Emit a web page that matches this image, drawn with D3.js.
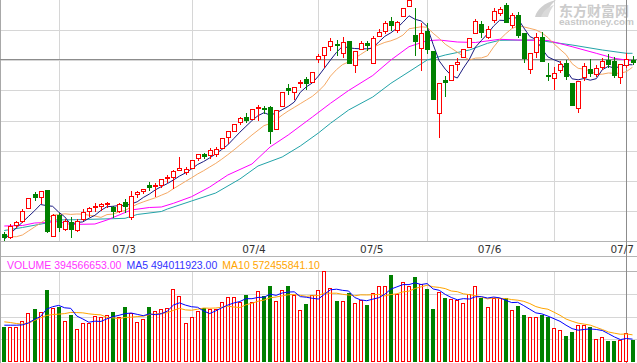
<!DOCTYPE html>
<html>
<head>
<meta charset="utf-8">
<script src="https://cdn.jsdelivr.net/npm/d3@7"></script>
<style>
body { margin: 0; background: #fff; }
svg { display: block; }
</style>
</head>
<body>
<div id="chart"></div>
<script>
// candle values (price units), one per bar
var open = [16,12.7,24.7,28.7,41.7,55.7,52.7,60,13.7,35,
  21.3,28,20,30.7,38.7,42.7,44,45.7,42.7,39,
  47.7,32.7,56,58.7,65.3,64,64.7,72,73.3,79.7,
  78.3,81.7,91.7,96,94.7,95.7,102,112.7,119.3,128,
  132.7,130.7,141.7,142.3,142.7,120.7,144,161.7,157.7,166.7,
  170.7,168.5,191.5,194.7,204,206.3,196.7,209,184.7,200.7,
  206.7,186.7,214.3,219.3,229.3,220.3,234,244.5,214.7,201.7,
  219,199,136.7,170,170,186.3,192.7,202.7,217.3,226,
  213.3,230,237.3,245.3,225.3,235.3,216.7,180.7,198.3,213.3,
  174.7,172,180,187.3,167.3,141.7,172.7,181.3,176,183.3,
  190,189.3,172.7,184.7,190];
var close = [13.5,24,27.7,38.7,52,52.7,59.3,19.3,35,23.3,
  29.3,21.3,28.7,37.7,41.7,44.3,45.7,47.3,39.3,45.7,
  43.7,54.3,58,60.7,62.7,64.7,70.7,73.3,78.7,82.3,
  80.7,90,95.7,94,100,101,111.7,119,125.7,131.7,
  130,140.7,143.3,141,119.3,140,157.7,160,162.7,168.3,
  166.7,178,194,202.7,208.7,205,208,186.7,199,207.3,
  205,211.7,217.7,226.7,224.7,228,242,249.5,209.3,216.7,
  200.7,151.3,167.3,168.3,185,188.3,200.7,211.7,229,218.3,
  221.3,239,240.7,228,235.3,215.3,191.7,197.3,213.3,189,
  174,177.3,186,174,144.7,169,184,177.3,181.7,189.3,
  186,175,186,190.7,188.3];
var high = [18,26,28.7,40.7,52,58,59.3,60,36,36.7,
  31.3,33.3,31,40.7,43.3,47.3,47.3,48.3,44.3,46.7,
  50.7,59.3,59.3,61.3,68.3,66.7,71,75,80,93.3,
  83.3,90,95.7,97.3,102,102.7,111.7,119,125.7,132.7,
  136.7,140.7,144.7,144,144,140,157.7,166,162.7,170,
  172.7,178,196,202.7,212,210,212.7,209,199,208.7,
  208.7,214,220.7,228.7,232.7,229.3,242,250,241.7,227.3,
  227.3,199,167.3,174,185,192,200.7,211.7,230.7,229.3,
  224,241.7,243.3,247.3,236.7,238,216.7,197.3,216.7,218.3,
  186.7,183.3,189,190,167.3,169,186.7,190.7,184.7,191.7,
  196,192.7,186,197.3,194];
var low = [10.5,12.5,23.3,28,41.7,49.7,47.3,18.3,13.7,19.3,
  20,12.7,18.7,30,34,38.7,40,42.7,33.3,38,
  38,31.3,53,57.3,60,54,63.3,68.3,61.7,79.7,
  76,81.7,90,92,92,94,102,106.7,119.3,126,
  128.3,130.7,130,136.7,106.7,120.7,144,156,150.7,162.7,
  160.7,168.5,188.3,183.3,200,195,193.3,186.7,178.3,200.7,
  200,186.7,213.7,216.7,220,218.3,234,244,195,180,
  196.7,151.3,113.3,154,170,180,192.7,202.7,216.7,213.3,
  212,228.3,235,228,223.3,213.3,188.3,176.7,192.7,189,
  170,160.7,178.3,170.7,144.7,138.3,170,174,174,180.7,
  183.3,172.7,167.3,183.3,186];

// price moving averages
var ma5 = [10.7,16.4,22.1,27.8,33.5,39.2,45.5,44.4,43.7,37.9,
  33.2,25.6,27.5,28.1,31.7,34.7,39.6,43.3,43.7,44.5,
  44.3,46.1,48.2,52.5,55.9,60.1,63.4,66.4,70,73.9,
  77.1,81,85.5,88.5,92.1,96.1,100.5,105.1,111.5,117.8,
  123.6,129.4,134.3,137.3,134.9,136.9,140.3,143.6,147.9,157.7,
  163.1,167.1,173.9,181.9,190,197.7,203.7,202.2,201.5,201.2,
  201.2,201.9,208.1,213.7,217.2,221.8,227.8,234.2,230.7,229.1,
  223.6,205.5,189.1,180.9,174.5,172,181.9,190.8,202.9,209.6,
  216.2,223.9,229.7,229.5,232.9,231.7,222.2,213.5,210.6,201.3,
  193.1,190.2,187.9,180.1,171.2,170.2,171.5,169.8,171.3,180.3,
  183.7,181.9,183.6,185.4,185.2];
var ma10 = [null,13.3,13.3,15,19,23,27,31,35,35.3,
  36.2,35.6,36,35.9,34.8,34,32.6,35.4,35.9,38.1,
  39.5,42.9,45.8,48.1,50.2,52.2,54.8,57.3,61.3,64.9,
  68.6,72.2,76,79.3,83,86.6,90.8,95.3,100,105,
  109.9,115,119.7,124.4,126.4,130.3,134.9,139,142.6,146.3,
  150,153.7,158.8,164.9,173.9,180.4,185.4,188.1,191.7,195.6,
  199.5,202.8,205.2,207.6,209.2,211.5,214.9,221.2,222.2,223.2,
  222.7,216.7,211.7,205.8,201.8,197.8,193.7,190,191.9,192.1,
  194.1,202.9,210.3,216.2,221.3,224,223.1,221.6,220.1,217.1,
  212.4,206.2,200.7,195.4,186.3,181.7,180.9,178.9,175.7,175.8,
  177,176.7,176.7,178.4,182.8];
// slower averages, read as [bar, value]
var ma20 = [[0,24],[3,24.5],[5,27],[7,27.5],[9,28.5],[11,25.5],[15,26],[17,30],
  [21,40],[24,42.5],[26,43],[28,46.7],[31,53.3],[34,63],[37,75],[41,86],[44,103],
  [47,115],[51,133],[54,146.7],[57,159.5],[61,174.5],[64,190],[67,203.3],[70,209.3],
  [72,210],[75,208],[78,207.5],[82,210.7],[85,210],[90,209.5],[94,203.3],[98,196.7],
  [101,191.7],[104,189]];
var ma60 = [[0,19.5],[3,22.5],[7,27],[8,30],[12,30.3],[18,31.3],[20,31.7],[22,35.5],
  [26,38.5],[27,41],[31,49],[35,57],[39,71],[42,84],[46,93],[49,104],[52,117],
  [54,126.7],[57,140],[61,153],[64,166.7],[67,178.3],[70,190],[73,195],[77,200],
  [80,206.7],[82,209.7],[88,210],[94,205],[99,200],[103,196.7],[104,196.7]];

// volume (millions) and its averages
var volume = [525,525,525,620,725,790,740,1075,800,825,
  610,700,500,580,580,690,680,700,740,680,
  815,725,600,640,815,760,790,800,1090,980,
  590,670,760,810,790,790,900,965,965,900,
  1000,900,1060,980,1130,910,1075,1130,1000,770,
  865,995,1075,1360,1100,910,910,1025,875,920,
  850,1025,1135,1135,1300,1020,1195,1135,1270,1170,
  1090,790,1040,960,940,920,875,1010,1130,950,
  815,950,950,950,775,835,700,680,680,700,
  670,505,485,390,445,550,560,525,350,370,
  315,315,325,430,325];
var vma5 = [550,550,550,555,584,637,680,790,826,846,
  810,802,687,643,594,610,606,646,678,698,
  723,732,712,692,719,708,721,761,851,884,
  850,826,818,762,724,764,810,851,882,904,
  946,946,965,968,1014,996,1031,1045,1049,977,
  968,952,941,1013,1079,1088,1071,1061,964,928,
  916,939,961,1013,1089,1123,1157,1157,1184,1158,
  1172,1091,1072,1010,964,930,947,941,975,977,
  956,971,959,923,888,892,842,788,734,719,
  686,647,608,550,499,475,486,494,486,471,
  424,375,335,351,342];
var vma10 = [600,590,575,565,580,620,660,695,710,715,
  723.5,741,738.5,734.5,720,710,704,666.5,660.5,646,
  666.5,669,679,685,708.5,715.5,726.5,736.5,771.5,801.5,
  779,773.5,789.5,806.5,804,807,818,834.5,822,814,
  855,878,908,925,959,971,988.5,1005,1008.5,995.5,
  982,991.5,993,1031,1028,1028,1011.5,1001,988.5,1003.5,
  1002,1005,1011,988.5,1008.5,1019.5,1048,1059,1098.5,1123.5,
  1147.5,1124,1114.5,1097,1061,1051,1019,1006.5,992.5,970.5,
  943,959,950,949,932.5,924,906.5,873.5,828.5,803.5,
  789,744.5,698,642,609,580.5,566.5,551,518,485,
  449.5,430.5,414.5,418.5,406.5];

// first bar of each day and its label
var dayStart = [9, 31, 52, 70, 91];
var dayLabel = ['07/3', '07/4', '07/5', '07/6', '07/7'];
var crossBar = 103;
var legendItems = [
  {text: 'VOLUME 394566653.00', color: '#ff33ff'},
  {text: 'MA5 494011923.00', color: '#3333ff'},
  {text: 'MA10 572455841.10', color: '#ffa500'}
];

const width = 637, height = 363;
const priceTop = 0, priceBottom = 241;
const axisBottom = 256;
const volTop = 271, volBottom = 362;
const n = close.length;

var svg = d3.select('#chart').append('svg')
  .attr('width', width)
  .attr('height', height);

var x = d3.scaleLinear().domain([0, n - 1]).range([4.3, 632.5]);
var y = d3.scaleLinear().domain([9, 250]).range([priceBottom, priceTop]);
var yv = d3.scaleLinear().domain([0, 1360]).range([volBottom, volTop]);

var px = function(i) { return Math.round(x(i)); };

// grid
var grid = svg.append('g').attr('shape-rendering', 'crispEdges');
d3.range(1, 8).forEach(function(k) {
  var gy = Math.round(priceBottom * k / 8) + 0.5;
  grid.append('line').attr('x1', 0).attr('x2', width).attr('y1', gy).attr('y2', gy)
    .attr('stroke', '#d6d6d6');
});
d3.range(1, 4).forEach(function(k) {
  var gy = Math.round(volTop + (volBottom - volTop) * k / 4) + 0.5;
  grid.append('line').attr('x1', 0).attr('x2', width).attr('y1', gy).attr('y2', gy)
    .attr('stroke', '#d6d6d6');
});
dayStart.forEach(function(d) {
  var gx = px(d) + 0.5;
  grid.append('line').attr('x1', gx).attr('x2', gx).attr('y1', priceTop).attr('y2', priceBottom)
    .attr('stroke', '#d6d6d6');
  grid.append('line').attr('x1', gx).attr('x2', gx).attr('y1', volTop).attr('y2', volBottom)
    .attr('stroke', '#d6d6d6');
});

// frame lines
[priceBottom, axisBottom, volTop].forEach(function(ly) {
  grid.append('line').attr('x1', 0).attr('x2', width).attr('y1', ly + 0.5).attr('y2', ly + 0.5)
    .attr('stroke', '#b4b4b4');
});
grid.append('line').attr('x1', 0.5).attr('x2', 0.5).attr('y1', 0).attr('y2', height)
  .attr('stroke', '#a8a8a8');

// watermark
var mark = svg.append('g');
mark.append('path')
  .attr('d', 'M535,17 C537,9 544,3 556,0 C550,5 547,11 544,17 Z')
  .attr('fill', '#cfcfcf');
mark.append('path')
  .attr('d', 'M541,17 C543,11 548,7 554,5 C551,9 549,13 548,17 Z')
  .attr('fill', '#dadada');
mark.append('text')
  .attr('x', 559).attr('y', 16.3)
  .attr('font-family', '"Noto Sans CJK SC"')
  .attr('font-weight', 'bold')
  .attr('font-size', 14)
  .attr('fill', '#cccccc')
  .text('东方财富网');
mark.append('text')
  .attr('x', 559).attr('y', 25)
  .attr('font-family', '"Liberation Sans", Arial, sans-serif')
  .attr('font-weight', 'bold')
  .attr('font-size', 8.5)
  .attr('textLength', 75)
  .attr('lengthAdjust', 'spacingAndGlyphs')
  .attr('fill', '#c8c8c8')
  .text('eastmoney.com');

// crosshair
var cross = svg.append('g').attr('shape-rendering', 'crispEdges');
var chx = px(crossBar) + 0.5, chy = Math.round(y(close[crossBar])) + 0.5;
cross.append('line').attr('x1', 0).attr('x2', width).attr('y1', chy).attr('y2', chy)
  .attr('stroke', '#8c8c8c');
cross.append('line').attr('x1', chx).attr('x2', chx).attr('y1', 0).attr('y2', height)
  .attr('stroke', '#8c8c8c');

// moving average lines (price)
var line = d3.line()
  .x(function(d) { return x(d[0]); })
  .y(function(d) { return y(d[1]); });
var pairs = function(arr) {
  return arr.map(function(v, i) { return [i, v]; }).filter(function(d) { return d[1] !== null; });
};
var maGroup = svg.append('g').attr('fill', 'none').attr('stroke-width', 1);
maGroup.append('path').attr('d', line(ma60)).attr('stroke', '#22a3a8');
maGroup.append('path').attr('d', line(ma20)).attr('stroke', '#ff00ff');
maGroup.append('path').attr('d', line(pairs(ma10))).attr('stroke', '#f5a863');
maGroup.append('path').attr('d', line(pairs(ma5))).attr('stroke', '#1a1a80');

// candles
var bars = d3.range(n);
var candles = svg.append('g').attr('shape-rendering', 'crispEdges');
candles.selectAll('line.wick').data(bars).join('line')
  .attr('class', 'wick')
  .attr('x1', function(i) { return px(i) + 0.5; })
  .attr('x2', function(i) { return px(i) + 0.5; })
  .attr('y1', function(i) { return Math.round(y(high[i])); })
  .attr('y2', function(i) { return Math.round(y(low[i])) + 1; })
  .attr('stroke', function(i) { return close[i] >= open[i] ? '#ff0000' : '#008000'; });
candles.selectAll('rect.body').data(bars).join('rect')
  .attr('class', 'body')
  .each(function(i) {
    var up = close[i] >= open[i];
    var top = Math.round(y(Math.max(open[i], close[i])));
    var bot = Math.round(y(Math.min(open[i], close[i])));
    var h = Math.max(1, bot - top);
    var r = d3.select(this);
    if (up) {
      r.attr('x', px(i) - 1.5).attr('y', top + 0.5).attr('width', 4).attr('height', h)
        .attr('fill', '#ffffff').attr('stroke', '#ff0000');
    } else {
      r.attr('x', px(i) - 2).attr('y', top).attr('width', 5).attr('height', h + 1)
        .attr('fill', '#008000');
    }
  });

// volume bars
var vbars = svg.append('g').attr('shape-rendering', 'crispEdges');
vbars.selectAll('rect').data(bars).join('rect')
  .each(function(i) {
    var up = close[i] >= open[i];
    var top = Math.round(yv(volume[i]));
    var r = d3.select(this);
    if (up) {
      r.attr('x', px(i) - 1.5).attr('y', top + 0.5).attr('width', 3).attr('height', volBottom - top - 1)
        .attr('fill', '#ffffff').attr('stroke', '#ff0000');
    } else {
      r.attr('x', px(i) - 2).attr('y', top).attr('width', 4).attr('height', volBottom - top)
        .attr('fill', '#008000');
    }
  });

var vline = d3.line()
  .x(function(d) { return x(d[0]); })
  .y(function(d) { return yv(d[1]); });
svg.append('path').attr('d', vline(pairs(vma10)))
  .attr('fill', 'none').attr('stroke', '#ffa500');
svg.append('path').attr('d', vline(pairs(vma5)))
  .attr('fill', 'none').attr('stroke', '#0000ff');

// date labels under the price panel
dayLabel.forEach(function(label, k) {
  var t = svg.append('text')
    .attr('y', 253)
    .attr('font-family', '"DejaVu Sans", sans-serif')
    .attr('font-size', 10.5)
    .attr('fill', '#333333')
    .text(label);
  if (k < dayStart.length - 1) {
    t.attr('x', (x(dayStart[k]) + x(dayStart[k + 1])) / 2 - 1).attr('text-anchor', 'middle');
  } else {
    t.attr('x', width - 3).attr('text-anchor', 'end');
  }
});

// volume legend, items placed one after another
var lx = 7;
legendItems.forEach(function(item) {
  var t = svg.append('text')
    .attr('x', lx).attr('y', 268.5)
    .attr('font-family', '"Liberation Sans", Arial, sans-serif')
    .attr('font-size', 10.5)
    .attr('fill', item.color)
    .text(item.text);
  lx += t.node().getComputedTextLength() + 5;
});
</script>
</body>
</html>
